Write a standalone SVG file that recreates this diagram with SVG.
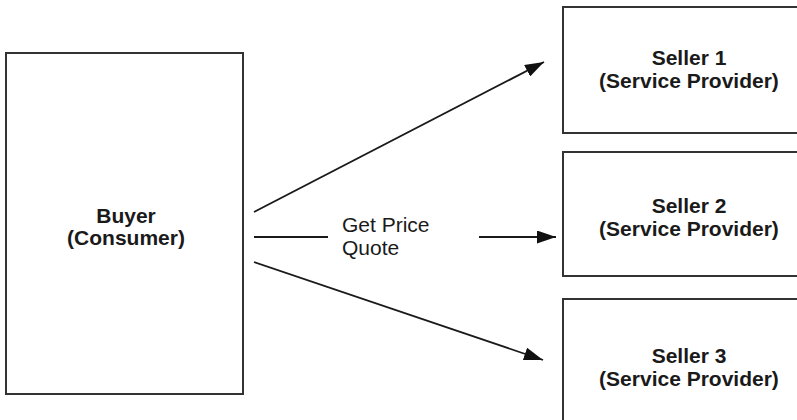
<svg xmlns="http://www.w3.org/2000/svg" width="797" height="420" viewBox="0 0 797 420">
<defs>
<style>
.box{fill:#fff;stroke:#333;stroke-width:2}
.lbl{font-family:"Liberation Sans",Arial,sans-serif;font-weight:bold;font-size:21px;fill:#1a1a1a;text-anchor:middle}
.reg{font-family:"Liberation Sans",Arial,sans-serif;font-size:21px;fill:#1a1a1a}
.ln{stroke:#1a1a1a;stroke-width:1.8;fill:none}
</style>
<marker id="ah" viewBox="0 0 19 13" refX="19" refY="6.5" markerWidth="19" markerHeight="13" markerUnits="userSpaceOnUse" orient="auto">
<path d="M0,0 L19,6.5 L0,13 z" fill="#111"/>
</marker>
</defs>
<rect width="797" height="420" fill="#fff"/>
<g id="buyer">
<rect class="box" x="6" y="53" width="237" height="341"/>
<text class="lbl" x="126" y="223">Buyer</text>
<text class="lbl" x="126" y="245">(Consumer)</text>
</g>
<g id="seller1">
<rect class="box" x="563" y="7" width="240" height="126"/>
<text class="lbl" x="689" y="65">Seller 1</text>
<text class="lbl" x="689" y="88">(Service Provider)</text>
</g>
<g id="seller2">
<rect class="box" x="563" y="152" width="240" height="124"/>
<text class="lbl" x="689" y="213">Seller 2</text>
<text class="lbl" x="689" y="236">(Service Provider)</text>
</g>
<g id="seller3">
<rect class="box" x="563" y="299" width="240" height="130"/>
<text class="lbl" x="689" y="363">Seller 3</text>
<text class="lbl" x="689" y="386">(Service Provider)</text>
</g>
<g id="connectors">
<line class="ln" x1="254" y1="212" x2="544" y2="62" marker-end="url(#ah)"/>
<line class="ln" x1="254" y1="237" x2="328" y2="237"/>
<line class="ln" x1="479" y1="237" x2="556" y2="237" marker-end="url(#ah)"/>
<line class="ln" x1="254" y1="262" x2="543" y2="360" marker-end="url(#ah)"/>
<text class="reg" x="342" y="232">Get Price</text>
<text class="reg" x="342" y="255">Quote</text>
</g>
</svg>
